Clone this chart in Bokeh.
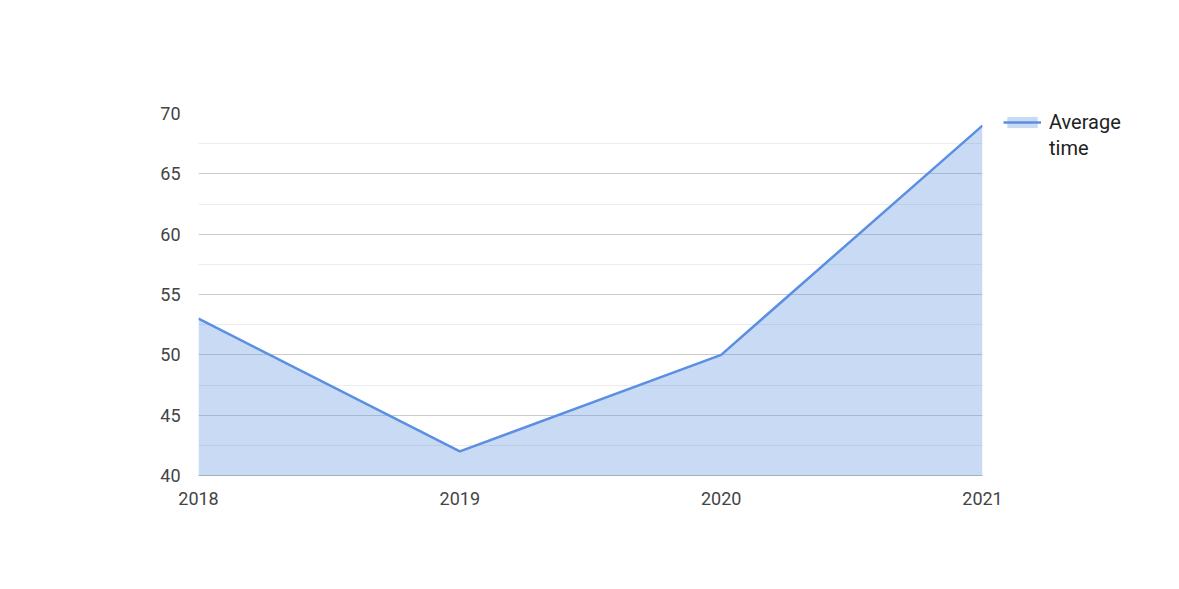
from bokeh.embed import file_html
from bokeh.models import Legend, LegendItem, Range1d, FixedTicker
from bokeh.plotting import figure
from bokeh.resources import INLINE

# data
years = [2018, 2019, 2020, 2021]
average_time = [53, 42, 50, 69]
y_ticks = [40, 45, 50, 55, 60, 65, 70]
minor_ticks = [42.5, 47.5, 52.5, 57.5, 62.5, 67.5]

LINE_COLOR = "#5b8fe1"
FONT = "Roboto"

p = figure(
    frame_width=784,
    frame_height=362,
    output_backend="svg",
    toolbar_location=None,
    x_range=Range1d(2018, 2021),
    y_range=Range1d(40, 70),
    min_border_left=198,
    min_border_right=0,
    min_border_top=113,
    min_border_bottom=114,
)
p.outline_line_color = None
p.background_fill_color = "white"

# area + line
area = p.varea(x=years, y1=[40] * len(years), y2=average_time,
               fill_color=LINE_COLOR, fill_alpha=0.33)
line = p.line(years, average_time, line_color=LINE_COLOR, line_width=2.5)
# invisible renderer, only to carry the second line of the legend label
blank = p.line(years[:1], average_time[:1], line_alpha=0)

# axes
p.xaxis.ticker = FixedTicker(ticks=years)
p.yaxis.ticker = FixedTicker(ticks=y_ticks, minor_ticks=minor_ticks)
for ax in (p.xaxis[0], p.yaxis[0]):
    ax.axis_line_color = None
    ax.major_tick_line_color = None
    ax.minor_tick_line_color = None
    ax.major_label_text_font = FONT
    ax.major_label_text_font_size = "18px"
    ax.major_label_text_color = "#444444"
p.xaxis.axis_line_color = "#a9b0bd"
p.xaxis.major_label_standoff = 10
p.yaxis.major_label_standoff = 12

# grid
p.xgrid.grid_line_color = None
p.ygrid.grid_line_color = "#cccccc"
p.ygrid.minor_grid_line_color = "#ececec"

# legend in the right-hand panel
legend = Legend(
    items=[
        LegendItem(label="Average", renderers=[area, line]),
        LegendItem(label="time", renderers=[blank]),
    ],
    location=(21, 315),
    border_line_color=None,
    background_fill_alpha=0,
    padding=0,
    margin=21,
    spacing=2,
    label_text_font=FONT,
    label_text_font_size="20px",
    label_text_color="#222222",
    glyph_width=38,
    glyph_height=14,
    label_standoff=8,
    label_width=109,
)
p.add_layout(legend, "right")

open("out.html", "w").write(file_html(p, INLINE))
